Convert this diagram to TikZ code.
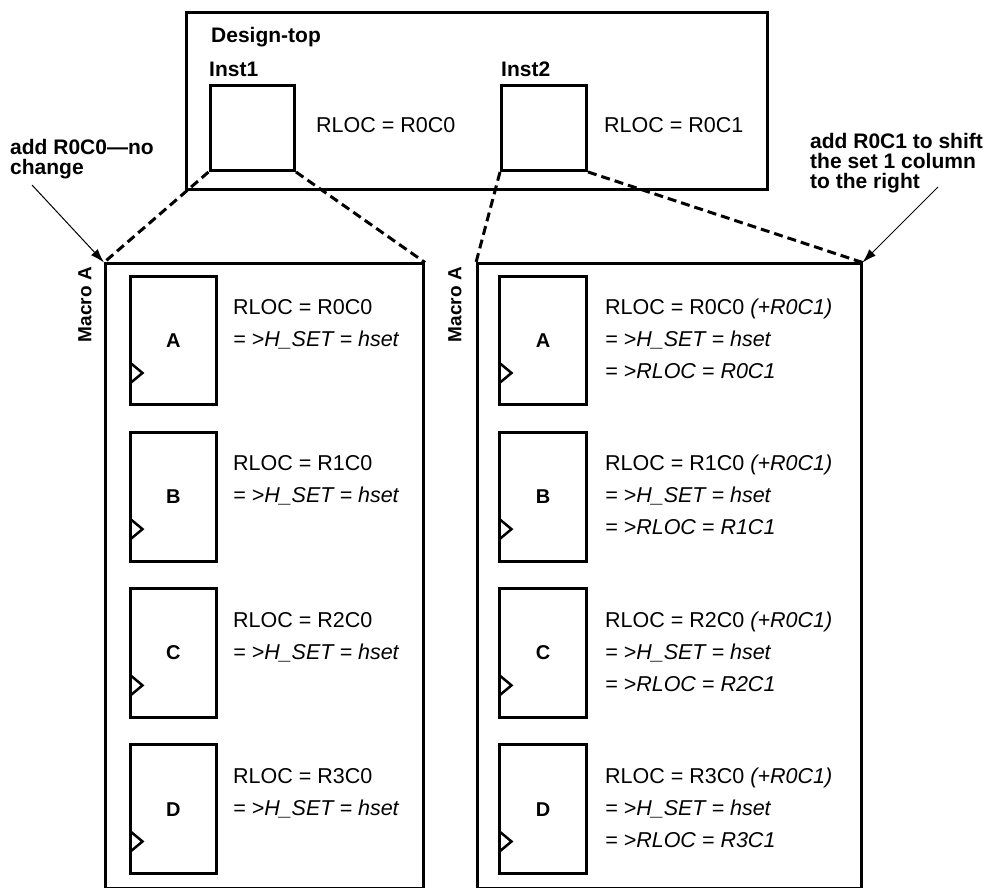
\documentclass[tikz,border=0pt]{standalone}
\usepackage{fontspec}
\setmainfont{Liberation Sans}
\usepackage{tikz}
\usetikzlibrary{arrows.meta, positioning, calc}

\begin{document}
\begin{tikzpicture}[x=1pt, y=1pt,
  font=\fontsize{21.5}{32}\selectfont,
  box/.style={rectangle, draw, line width=3pt, inner sep=0pt},
  cell/.style={box, minimum height=128.5pt, font=\fontsize{20}{24}\selectfont\bfseries},
  lbl/.style={inner sep=0pt, anchor=base west, align=left},
  bl/.style={lbl, font=\fontsize{21}{20}\selectfont\bfseries},
  mac/.style={inner sep=0pt, anchor=east, rotate=90, font=\fontsize{19}{22}\selectfont\bfseries},
  clk/.style={line width=2.5pt, line join=miter},
  zoom/.style={line width=3pt, dash pattern=on 9pt off 5pt},
  ar/.style={-{Latex[length=14pt, width=9pt]}, line width=1pt}]
\useasboundingbox (0,0) rectangle (999,888);
\clip (0,0) rectangle (999,888);
\node[box, minimum width=581.5pt, minimum height=177.5pt] (dtop) at (476.75,786.75) {};
\node[box, minimum width=84.5pt, minimum height=85pt] (inst1) at (252.25,760) {};
\node[box, minimum width=85pt, minimum height=85pt] (inst2) at (544,760) {};
\node[bl] (dtoplbl) at (211,845) {Design-top};
\node[bl] (inst1lbl) at (209,811) {Inst1};
\node[bl] (inst2lbl) at (501,811) {Inst2};
\node[lbl] (rloc1) at (316,755) {RLOC = R0C0};
\node[lbl] (rloc2) at (604,755) {RLOC = R0C1};
\node[box, minimum width=318pt, minimum height=625pt] (macl) at (264.5,311.5) {};
\node[box, minimum width=383.5pt, minimum height=625pt] (macr) at (669.25,311.5) {};
\node[mac] (macllbl) at (85,621) {Macro A};
\node[mac] (macrlbl) at (455,621) {Macro A};
\node[cell, minimum width=85.5pt] (la) at (173.25,547.25) {A};
\node[cell, minimum width=85.5pt] (lb) at (173.25,391.1) {B};
\node[cell, minimum width=85.5pt] (lc) at (173.25,234.9) {C};
\node[cell, minimum width=85.5pt] (ld) at (173.25,78.75) {D};
\node[cell, minimum width=87pt] (ra) at (543,547.25) {A};
\node[cell, minimum width=87pt] (rb) at (543,391.1) {B};
\node[cell, minimum width=87pt] (rc) at (543,234.9) {C};
\node[cell, minimum width=87pt] (rd) at (543,78.75) {D};
\node[lbl] (lal) at (233,541.25) {RLOC = R0C0\\\textit{= >H\_SET = hset}};
\node[lbl] (lbl) at (233,385.1) {RLOC = R1C0\\\textit{= >H\_SET = hset}};
\node[lbl] (lcl) at (233,228.9) {RLOC = R2C0\\\textit{= >H\_SET = hset}};
\node[lbl] (ldl) at (233,72.75) {RLOC = R3C0\\\textit{= >H\_SET = hset}};
\node[lbl] (ral) at (605,509.25) {RLOC = R0C0 \textit{(+R0C1)}\\\textit{= >H\_SET = hset}\\\textit{= >RLOC = R0C1}};
\node[lbl] (rbl) at (605,353.1) {RLOC = R1C0 \textit{(+R0C1)}\\\textit{= >H\_SET = hset}\\\textit{= >RLOC = R1C1}};
\node[lbl] (rcl) at (605,196.9) {RLOC = R2C0 \textit{(+R0C1)}\\\textit{= >H\_SET = hset}\\\textit{= >RLOC = R2C1}};
\node[lbl] (rdl) at (605,40.75) {RLOC = R3C0 \textit{(+R0C1)}\\\textit{= >H\_SET = hset}\\\textit{= >RLOC = R3C1}};
\draw[clk] ($(la.south west)+(1.5,23.5)$) -- ++(12,10) -- ++(-12,10);
\draw[clk] ($(lb.south west)+(1.5,23.5)$) -- ++(12,10) -- ++(-12,10);
\draw[clk] ($(lc.south west)+(1.5,23.5)$) -- ++(12,10) -- ++(-12,10);
\draw[clk] ($(ld.south west)+(1.5,23.5)$) -- ++(12,10) -- ++(-12,10);
\draw[clk] ($(ra.south west)+(1.5,23.5)$) -- ++(12,10) -- ++(-12,10);
\draw[clk] ($(rb.south west)+(1.5,23.5)$) -- ++(12,10) -- ++(-12,10);
\draw[clk] ($(rc.south west)+(1.5,23.5)$) -- ++(12,10) -- ++(-12,10);
\draw[clk] ($(rd.south west)+(1.5,23.5)$) -- ++(12,10) -- ++(-12,10);
\draw[zoom] (inst1.south west) -- (macl.north west); \draw[zoom] (inst1.south east) -- (macl.north east);
\draw[zoom] (inst2.south west) -- (macr.north west); \draw[zoom] (inst2.south east) -- (macr.north east);
\node[bl] (notel) at (10,713) {add R0C0\textemdash no\\change};
\node[bl] (noter) at (810,699) {add R0C1 to shift\\the set 1 column\\to the right};
\coordinate (nlstart) at (32,703);
\coordinate (nrstart) at (938,701);
\draw[ar] (nlstart) -- (macl.north west);
\draw[ar] (nrstart) -- (macr.north east);
\end{tikzpicture}
\end{document}
